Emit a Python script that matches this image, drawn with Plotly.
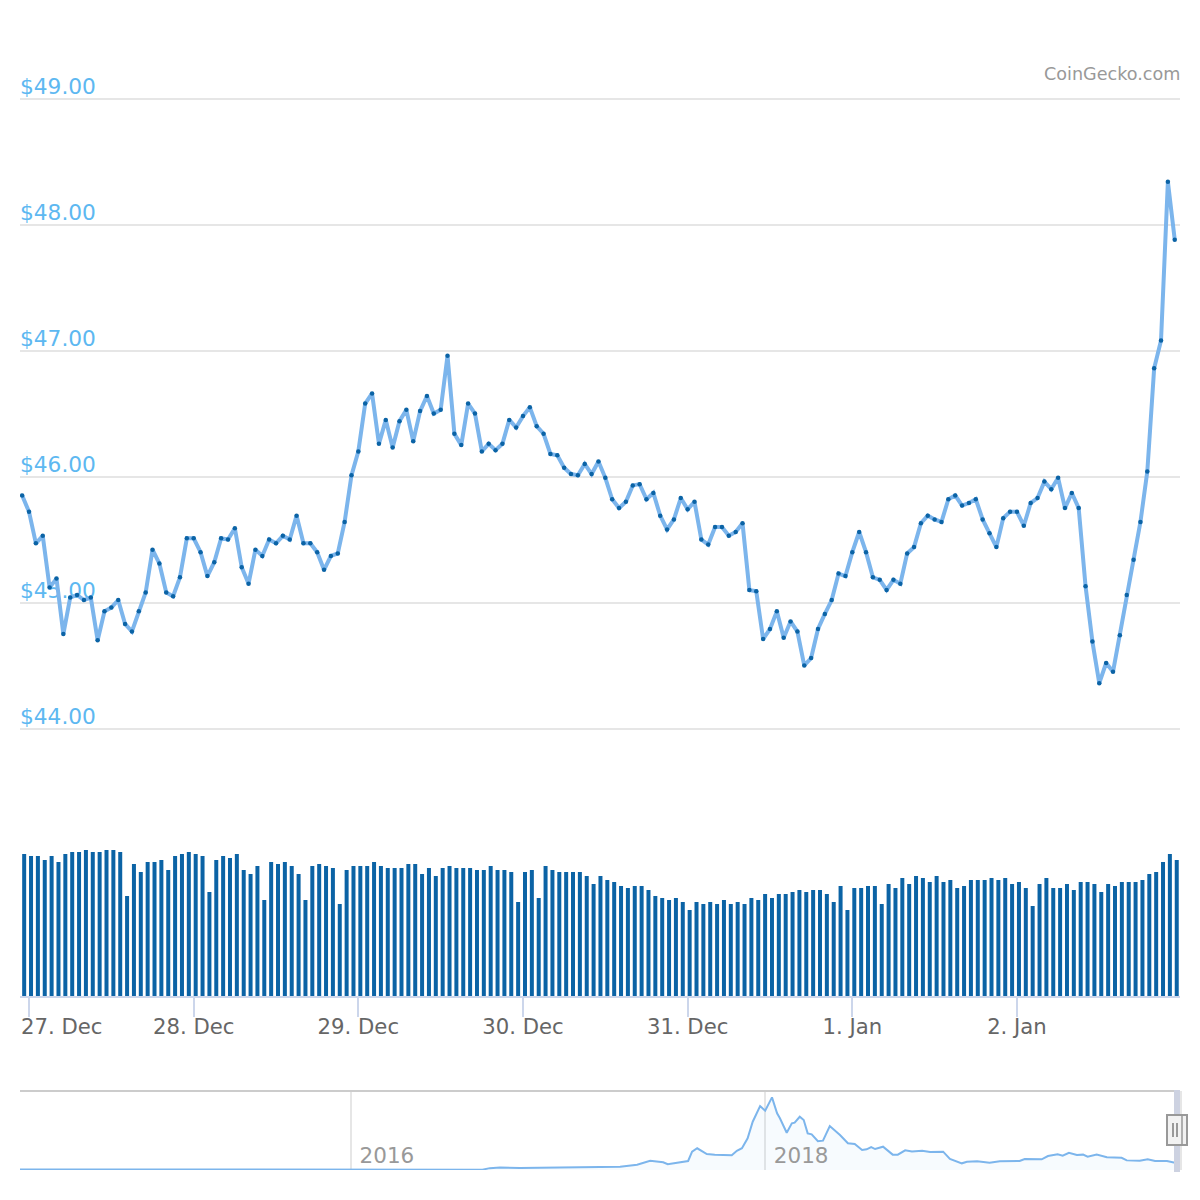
import pandas as pd
import plotly.graph_objects as go

# hourly price, USD
prices = [
    45.85, 45.72, 45.47, 45.53, 45.12, 45.19, 44.75, 45.04, 45.06, 45.02,
    45.04, 44.70, 44.93, 44.96, 45.02, 44.83, 44.77, 44.93, 45.08, 45.42,
    45.31, 45.08, 45.05, 45.20, 45.51, 45.51, 45.40, 45.21, 45.32, 45.51,
    45.50, 45.59, 45.28, 45.15, 45.42, 45.37, 45.50, 45.47, 45.53, 45.50,
    45.69, 45.47, 45.47, 45.40, 45.26, 45.37, 45.39, 45.64, 46.01, 46.20,
    46.58, 46.66, 46.26, 46.45, 46.23, 46.44, 46.53, 46.28, 46.52, 46.64,
    46.50, 46.53, 46.96, 46.34, 46.25, 46.58, 46.50, 46.20, 46.26, 46.21,
    46.26, 46.45, 46.39, 46.48, 46.55, 46.40, 46.34, 46.18, 46.17, 46.07,
    46.02, 46.01, 46.10, 46.02, 46.12, 45.99, 45.82, 45.75, 45.80, 45.93,
    45.94, 45.82, 45.87, 45.69, 45.58, 45.66, 45.83, 45.74, 45.80, 45.50,
    45.46, 45.60, 45.60, 45.53, 45.56, 45.63, 45.10, 45.09, 44.71, 44.79,
    44.93, 44.72, 44.85, 44.77, 44.50, 44.56, 44.79, 44.91, 45.02, 45.23,
    45.21, 45.40, 45.56, 45.40, 45.20, 45.18, 45.10, 45.18, 45.15, 45.39,
    45.44, 45.63, 45.69, 45.66, 45.64, 45.82, 45.85, 45.77, 45.79, 45.82,
    45.66, 45.55, 45.44, 45.67, 45.72, 45.72, 45.61, 45.79, 45.83, 45.96,
    45.90, 45.99, 45.75, 45.87, 45.75, 45.13, 44.69, 44.36, 44.52, 44.45,
    44.74, 45.06, 45.34, 45.64, 46.04, 46.86, 47.08, 48.34, 47.88,
]

# volume scale is not shown on the chart, so these are relative
volumes = [
    142, 140, 140, 136, 140, 134, 142, 144, 144, 146,
    144, 144, 146, 146, 144, 100, 132, 124, 134, 134,
    136, 126, 140, 142, 144, 142, 140, 104, 136, 140,
    138, 142, 126, 122, 130, 96, 134, 132, 134, 130,
    122, 96, 130, 132, 130, 128, 92, 126, 130, 130,
    130, 134, 130, 128, 128, 128, 132, 132, 122, 128,
    120, 128, 130, 128, 128, 128, 126, 126, 130, 126,
    126, 124, 94, 124, 126, 98, 130, 126, 124, 124,
    124, 124, 120, 112, 120, 116, 114, 110, 108, 110,
    110, 106, 100, 98, 96, 98, 94, 86, 94, 92,
    94, 92, 96, 92, 94, 92, 98, 96, 102, 98,
    102, 102, 104, 106, 104, 106, 106, 102, 94, 110,
    86, 108, 108, 110, 110, 92, 112, 108, 118, 112,
    120, 118, 114, 120, 114, 116, 108, 110, 116, 116,
    116, 118, 116, 118, 112, 114, 108, 90, 112, 118,
    108, 108, 112, 106, 114, 114, 112, 104, 112, 110,
    114, 114, 114, 116, 122, 124, 134, 142, 136,
]

times = pd.date_range("2019-12-26 23:00", periods=len(prices), freq="h")

day_ticks = ["2019-12-27", "2019-12-28", "2019-12-29", "2019-12-30",
             "2019-12-31", "2020-01-01", "2020-01-02"]
day_labels = ["", "28. Dec", "29. Dec", "30. Dec", "31. Dec", "1. Jan", "2. Jan"]
price_ticks = [44, 45, 46, 47, 48, 49]

# full history for the navigator
nav_dates = [
    "2014-05-27", "2014-10-15", "2015-04-10", "2015-10-03", "2016-01-01",
    "2016-05-02", "2016-08-20", "2016-09-02", "2016-09-20", "2016-10-25", "2017-01-04",
    "2017-03-15", "2017-04-20", "2017-05-20", "2017-06-12", "2017-07-05",
    "2017-07-13", "2017-08-18", "2017-08-25", "2017-09-03", "2017-09-20",
    "2017-10-04", "2017-11-03", "2017-11-12", "2017-11-21", "2017-12-01",
    "2017-12-10", "2017-12-23", "2018-01-01", "2018-01-13", "2018-01-22",
    "2018-01-27", "2018-02-08", "2018-02-17", "2018-02-22", "2018-03-03",
    "2018-03-10", "2018-03-17", "2018-03-24", "2018-04-04", "2018-04-13",
    "2018-04-25", "2018-05-13", "2018-05-27", "2018-06-08", "2018-06-21",
    "2018-06-29", "2018-07-07", "2018-07-14", "2018-07-28", "2018-08-14",
    "2018-08-23", "2018-09-05", "2018-09-17", "2018-10-05", "2018-10-19",
    "2018-11-11", "2018-11-23", "2018-12-14", "2018-12-23", "2019-01-10",
    "2019-02-01", "2019-02-19", "2019-03-26", "2019-04-04", "2019-05-04",
    "2019-05-15", "2019-06-01", "2019-06-10", "2019-06-21", "2019-07-05",
    "2019-07-16", "2019-07-24", "2019-08-09", "2019-08-27", "2019-09-22",
    "2019-10-01", "2019-10-24", "2019-11-07", "2019-11-20", "2019-12-11",
    "2019-12-25", "2020-01-02",
]
nav_prices = [
    4, 3, 1, 0.5, 0.5,
    1, 2, 12, 16, 13, 16,
    17, 21, 34, 60, 50,
    37, 58, 118, 140, 103,
    99, 95, 124, 140, 204,
    311, 412, 382, 468, 365,
    333, 240, 301, 305, 343,
    322, 236, 230, 185, 189,
    283, 225, 172, 167, 129,
    133, 148, 135, 150, 99,
    99, 127, 120, 124, 116,
    118, 71, 43, 53, 56,
    47, 56, 58, 71, 69,
    90, 101, 92, 111, 97,
    99, 86, 99, 82, 79,
    62, 60, 69, 58, 58,
    47, 48,
]
nav_ticks = ["2016-01-01", "2018-01-01"]
nav_labels = ["2016", "2018"]

LINE = "#7cb5ec"
DARK = "#0b63a5"
FONT = "DejaVu Sans"


# the layout was measured in pixels on a 1200px square page
def px(v):
    return v / 1200


def py(v):
    return 1 - v / 1200


fig = go.Figure()

fig.add_trace(go.Scatter(
    x=times, y=prices, mode="lines+markers", xaxis="x", yaxis="y",
    line=dict(color=LINE, width=4),
    marker=dict(color=DARK, size=4.5),
))
fig.add_trace(go.Bar(
    x=times, y=volumes, xaxis="x2", yaxis="y2",
    marker=dict(color=DARK, line=dict(width=0)),
    width=2100000, offset=0,
))
fig.add_trace(go.Scatter(
    x=nav_dates, y=nav_prices, mode="lines", xaxis="x3", yaxis="y3",
    line=dict(color=LINE, width=2),
    fill="tozeroy", fillcolor="rgba(124,181,236,0.06)",
))

time_range = ["2019-12-26 22:41", "2020-01-02 23:46"]

fig.update_layout(
    width=1200, height=1200,
    margin=dict(l=0, r=0, t=0, b=0),
    paper_bgcolor="white", plot_bgcolor="rgba(0,0,0,0)",
    showlegend=False,
    font=dict(family=FONT),
    xaxis=dict(
        domain=[px(20), px(1180)], range=time_range, anchor="y",
        showgrid=False, showticklabels=False, ticks="", zeroline=False,
    ),
    yaxis=dict(
        domain=[py(760), py(40)], range=[43.75, 49.466], anchor="x",
        tickvals=price_ticks, tickformat="$.2f",
        ticklabelposition="inside", ticklabelshift=-12, ticklabelstandoff=-3,
        layer="below traces",
        tickfont=dict(family=FONT, size=21.7, color="#5db8f1"),
        showgrid=True, gridcolor="#e6e6e6", gridwidth=2,
        zeroline=False, ticks="",
    ),
    xaxis2=dict(
        domain=[px(20), px(1180)], range=time_range, anchor="y2",
        tickvals=day_ticks, ticktext=day_labels, ticklabelstandoff=-8,
        tickfont=dict(family=FONT, size=21.2, color="#666666"),
        ticks="outside", ticklen=19, tickwidth=2, tickcolor="#ccd6eb",
        showline=True, linecolor="#ccd6eb", linewidth=2,
        showgrid=False, zeroline=False,
    ),
    yaxis2=dict(
        domain=[py(996), py(850)], range=[0, 146], anchor="x2",
        showgrid=False, showticklabels=False, ticks="", zeroline=False,
    ),
    xaxis3=dict(
        domain=[px(20), px(1180)], range=["2014-05-27", "2020-01-03"], anchor="y3",
        tickvals=nav_ticks, ticktext=nav_labels,
        ticklabelposition="inside", ticklabelshift=36,
        tickfont=dict(family=FONT, size=21.5, color="#999999"),
        showgrid=True, gridcolor="#e6e6e6", gridwidth=2,
        zeroline=False, ticks="",
    ),
    yaxis3=dict(
        domain=[py(1170), py(1091)], range=[0, 509], anchor="x3",
        showgrid=False, showticklabels=False, ticks="", zeroline=False,
    ),
    annotations=[
        dict(text="CoinGecko.com", xref="paper", yref="paper",
             x=px(1180), y=py(74), xanchor="right", yanchor="middle", xshift=2,
             showarrow=False, font=dict(family=FONT, size=17.6, color="#999999")),
        # first day label is pushed right so it stays on the page
        dict(text="27. Dec", xref="x2", yref="paper", x=day_ticks[0], y=py(1026),
             xanchor="left", yanchor="middle", xshift=-10, showarrow=False,
             font=dict(family=FONT, size=21.2, color="#666666")),
    ],
    shapes=[
        # navigator outline
        dict(type="line", xref="paper", yref="paper", x0=px(20), x1=px(1175),
             y0=py(1091), y1=py(1091), line=dict(color="#cccccc", width=2)),
        # selected window
        dict(type="rect", xref="paper", yref="paper", x0=px(1174), x1=px(1180),
             y0=py(1172), y1=py(1090), fillcolor="#cdd2e1", line=dict(width=0)),
        dict(type="rect", xref="paper", yref="paper", x0=px(1180), x1=px(1182),
             y0=py(1170), y1=py(1091), fillcolor="#e6e6e6", line=dict(width=0)),
        # handle
        dict(type="rect", xref="paper", yref="paper", x0=px(1167), x1=px(1187),
             y0=py(1145), y1=py(1115), fillcolor="#f2f2f2",
             line=dict(color="#999999", width=2)),
        dict(type="line", xref="paper", yref="paper", x0=px(1173), x1=px(1173),
             y0=py(1137), y1=py(1123), line=dict(color="#999999", width=2)),
        dict(type="line", xref="paper", yref="paper", x0=px(1177), x1=px(1177),
             y0=py(1137), y1=py(1123), line=dict(color="#999999", width=2)),
        dict(type="line", xref="paper", yref="paper", x0=px(1182), x1=px(1182),
             y0=py(1145), y1=py(1115), line=dict(color="#999999", width=1.5)),
    ],
)

fig.write_html("out.html", config={"displayModeBar": False},
               post_script="document.body.style.margin='0';")
